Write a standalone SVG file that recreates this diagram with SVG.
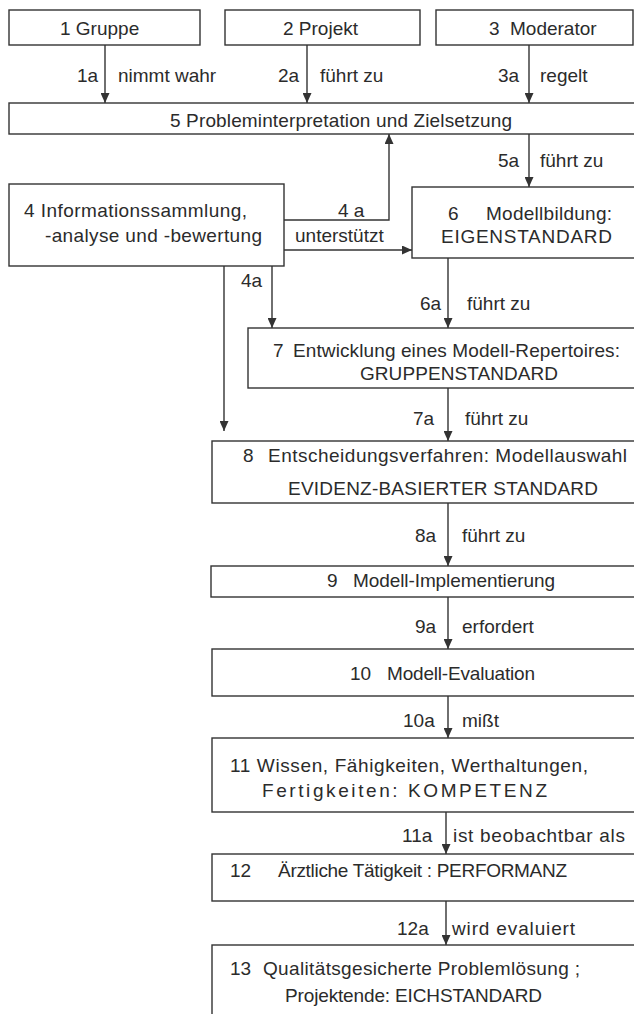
<svg xmlns="http://www.w3.org/2000/svg" width="634" height="1014" viewBox="0 0 634 1014">
<style>
rect{fill:none;stroke:#333;stroke-width:1.4}
.c line,.c polyline{fill:none;stroke:#333;stroke-width:1.4}
text{font-family:"Liberation Sans",Arial,sans-serif;font-size:19px;fill:#2b2b2b}
</style>
<defs>
<marker id="ah" markerUnits="userSpaceOnUse" markerWidth="11" markerHeight="9" refX="10" refY="4.5" orient="auto">
<path d="M0,0 L10,4.5 L0,9 z" fill="#333"/>
</marker>
</defs>
<rect x="0" y="0" width="634" height="1014" style="fill:#fff;stroke:none"/>
<g id="n1"><rect x="9" y="10" width="191" height="35"/><text x="60" y="35">1 Gruppe</text></g>
<g id="n2"><rect x="225" y="10" width="195" height="35"/><text x="283" y="35">2 Projekt</text></g>
<g id="n3"><rect x="436" y="10" width="197" height="35"/><text x="489" y="35">3</text><text x="510" y="35">Moderator</text></g>
<g id="n5"><rect x="9" y="103" width="640" height="31"/><text x="170" y="127" textLength="342">5 Probleminterpretation und Zielsetzung</text></g>
<g id="n4"><rect x="9" y="184" width="275" height="82"/><text x="24" y="217" textLength="223">4 Informationssammlung,</text><text x="45" y="242" textLength="217">-analyse und -bewertung</text></g>
<g id="n6"><rect x="412" y="187" width="240" height="71"/><text x="448" y="220">6</text><text x="486" y="220" textLength="126">Modellbildung:</text><text x="441" y="243" textLength="171">EIGENSTANDARD</text></g>
<g id="n7"><rect x="248" y="328" width="400" height="60"/><text x="273" y="357">7</text><text x="293" y="357" textLength="327">Entwicklung eines Modell-Repertoires:</text><text x="360" y="380" textLength="198">GRUPPENSTANDARD</text></g>
<g id="n8"><rect x="212" y="441" width="440" height="62"/><text x="243" y="462">8</text><text x="268" y="462" textLength="359">Entscheidungsverfahren: Modellauswahl</text><text x="288" y="495" textLength="310">EVIDENZ-BASIERTER STANDARD</text></g>
<g id="n9"><rect x="211" y="566" width="440" height="31"/><text x="327" y="587">9</text><text x="353" y="587" textLength="202">Modell-Implementierung</text></g>
<g id="n10"><rect x="212" y="649" width="440" height="47"/><text x="350" y="680">10</text><text x="387" y="680" textLength="148">Modell-Evaluation</text></g>
<g id="n11"><rect x="212" y="738" width="440" height="74"/><text x="230" y="772" textLength="358">11 Wissen, Fähigkeiten, Werthaltungen,</text><text x="262" y="797" textLength="285">Fertigkeiten: KOMPETENZ</text></g>
<g id="n12"><rect x="212" y="854" width="440" height="47"/><text x="230" y="877">12</text><text x="278" y="877" textLength="289">Ärztliche Tätigkeit : PERFORMANZ</text></g>
<g id="n13"><rect x="212" y="945" width="440" height="90"/><text x="230" y="975">13</text><text x="263" y="975" textLength="317">Qualitätsgesicherte Problemlösung ;</text><text x="285" y="1002" textLength="257">Projektende: EICHSTANDARD</text></g>
<g id="connectors" class="c">
<line x1="105" y1="45" x2="105" y2="103" marker-end="url(#ah)"/>
<line x1="307" y1="45" x2="307" y2="103" marker-end="url(#ah)"/>
<line x1="529" y1="45" x2="529" y2="103" marker-end="url(#ah)"/>
<polyline points="284,220 389,220 389,134" marker-end="url(#ah)"/>
<line x1="284" y1="250" x2="412" y2="250" marker-end="url(#ah)"/>
<line x1="529" y1="134" x2="529" y2="187" marker-end="url(#ah)"/>
<line x1="272" y1="266" x2="272" y2="328" marker-end="url(#ah)"/>
<line x1="224" y1="266" x2="224" y2="431" marker-end="url(#ah)"/>
<line x1="448" y1="258" x2="448" y2="328" marker-end="url(#ah)"/>
<line x1="448" y1="388" x2="448" y2="441" marker-end="url(#ah)"/>
<line x1="448" y1="503" x2="448" y2="566" marker-end="url(#ah)"/>
<line x1="448" y1="597" x2="448" y2="649" marker-end="url(#ah)"/>
<line x1="448" y1="696" x2="448" y2="738" marker-end="url(#ah)"/>
<line x1="446" y1="812" x2="446" y2="854" marker-end="url(#ah)"/>
<line x1="446" y1="901" x2="446" y2="945" marker-end="url(#ah)"/>
<text x="77" y="82">1a</text><text x="118" y="82">nimmt wahr</text>
<text x="278" y="82">2a</text><text x="320" y="82">führt zu</text>
<text x="498" y="82">3a</text><text x="540" y="82">regelt</text>
<text x="498" y="167">5a</text><text x="540" y="167">führt zu</text>
<text x="338" y="217">4 a</text><text x="295" y="242">unterstützt</text>
<text x="241" y="287">4a</text>
<text x="420" y="310">6a</text><text x="467" y="310">führt zu</text>
<text x="413" y="425">7a</text><text x="465" y="425">führt zu</text>
<text x="415" y="542">8a</text><text x="462" y="542">führt zu</text>
<text x="415" y="633">9a</text><text x="462" y="633">erfordert</text>
<text x="403" y="727">10a</text><text x="462" y="727">mißt</text>
<text x="402" y="842">11a</text><text x="453" y="842" textLength="172">ist beobachtbar als</text>
<text x="397" y="935">12a</text><text x="452" y="935" textLength="123">wird evaluiert</text>
</g>
</svg>
